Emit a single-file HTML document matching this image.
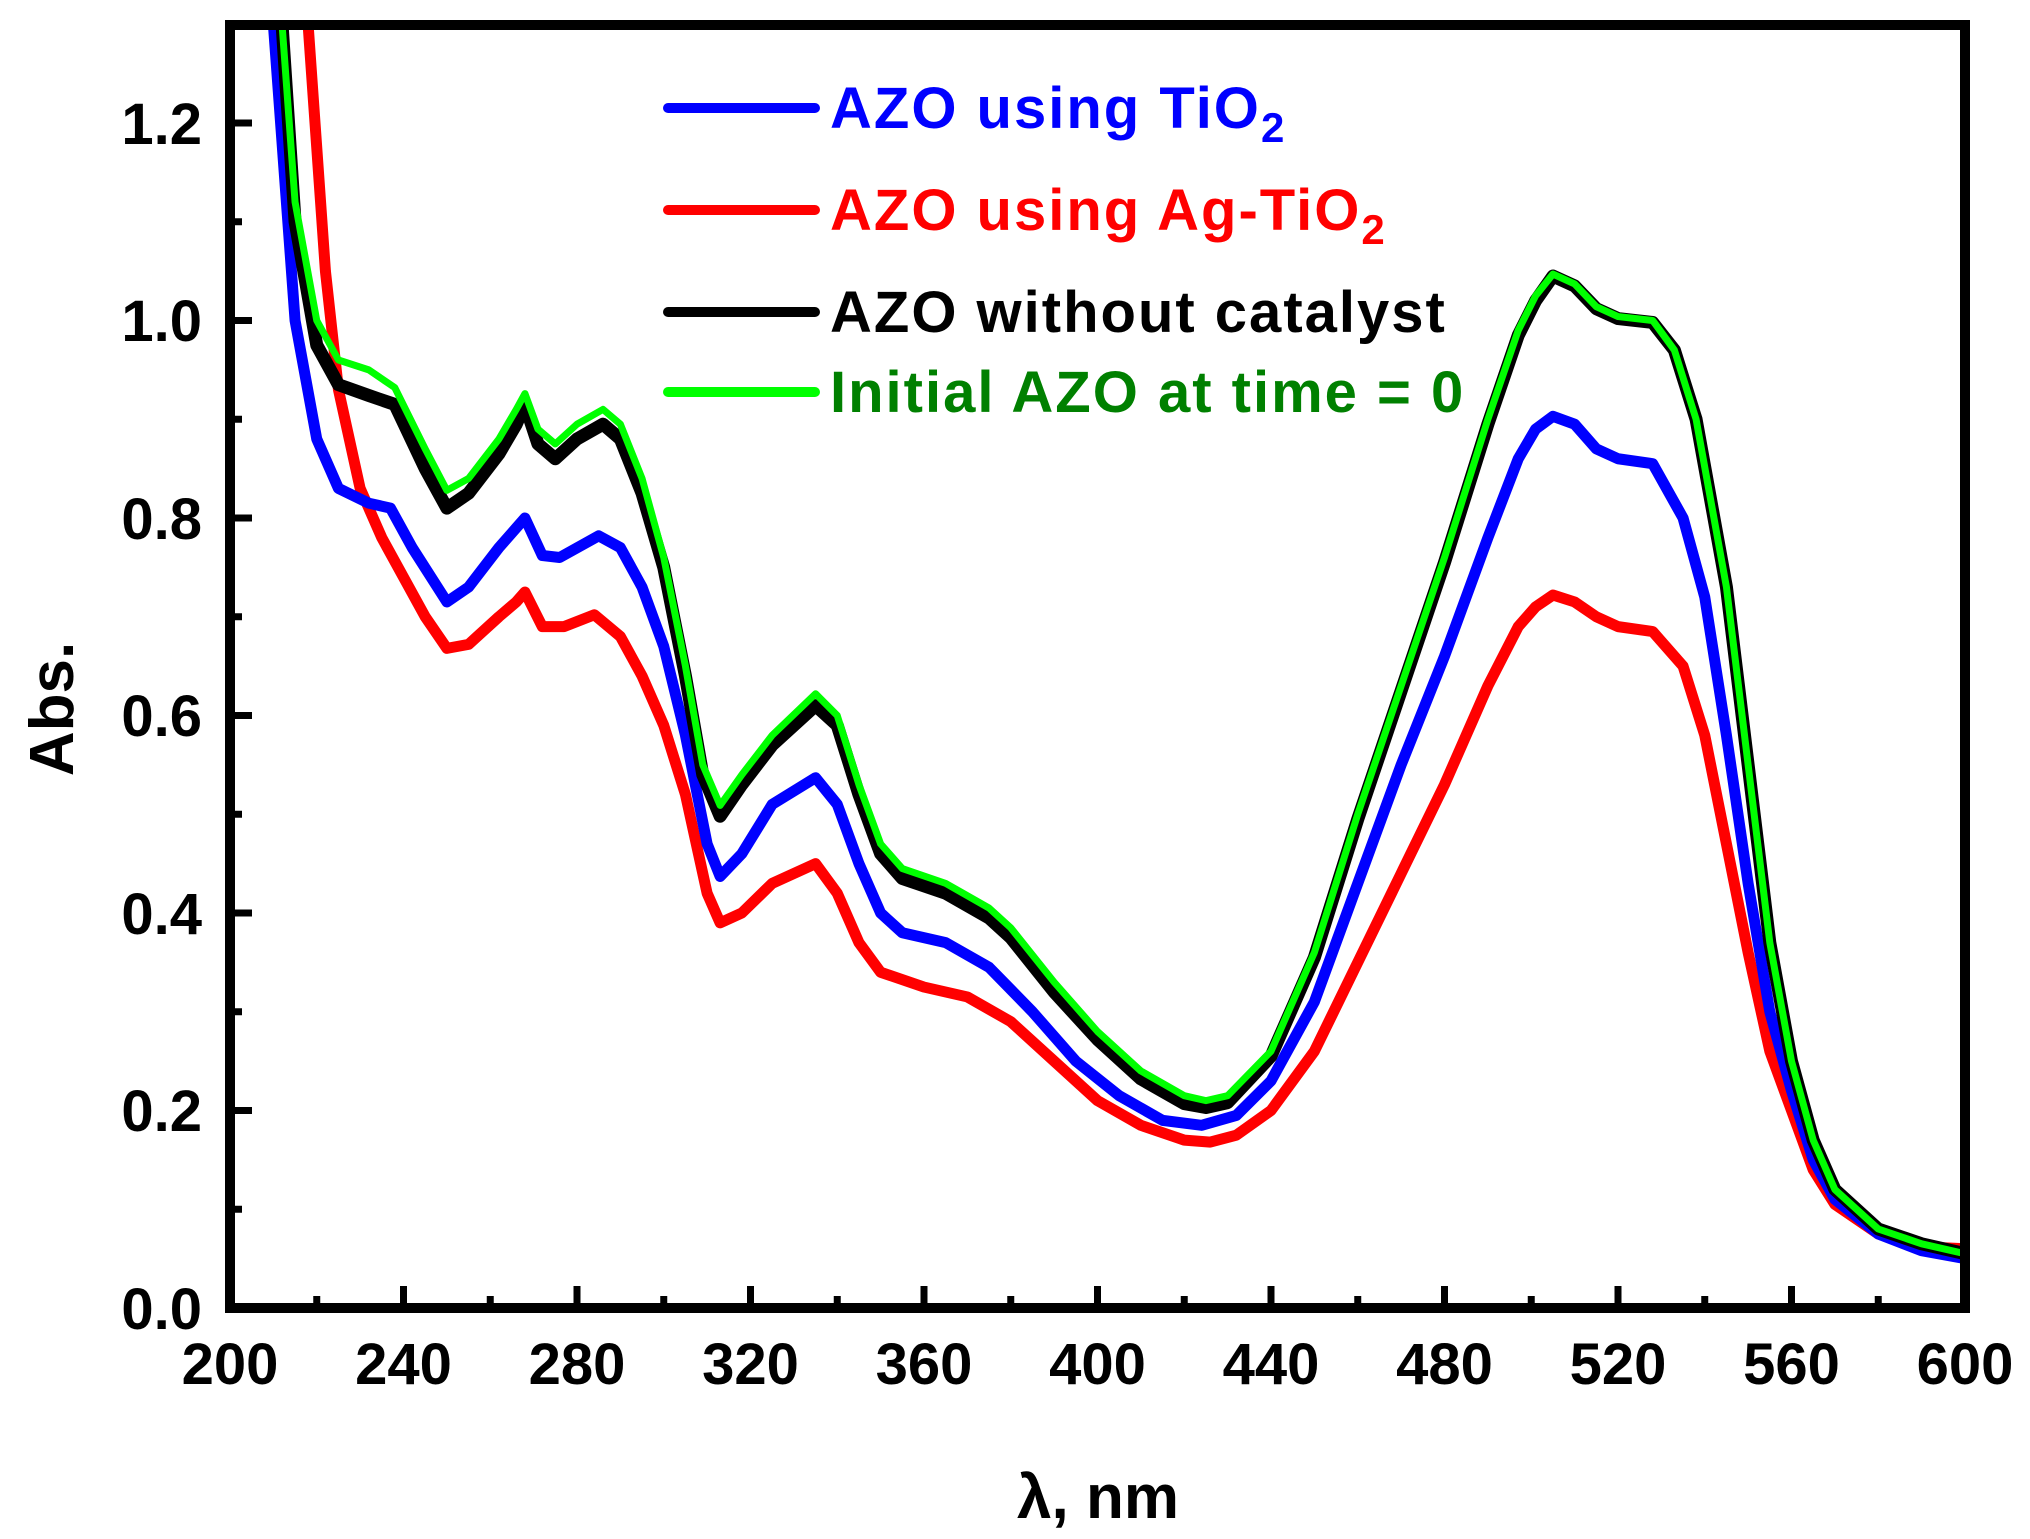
<!DOCTYPE html>
<html><head><meta charset="utf-8"><style>
html,body{margin:0;padding:0;background:#fff;}
svg{display:block;}
text{font-family:"Liberation Sans",Arial,sans-serif;font-weight:bold;}
</style></head><body>
<svg width="2030" height="1539" viewBox="0 0 2030 1539" xmlns="http://www.w3.org/2000/svg">
<defs><clipPath id="c"><rect x="230" y="25" width="1735" height="1283"/></clipPath></defs>
<g clip-path="url(#c)" fill="none" stroke-linejoin="round" stroke-linecap="round">
<g transform="translate(230,1308) scale(4.3375,-987.5)">
<polyline vector-effect="non-scaling-stroke" stroke="#ff0000" stroke-width="11" points="17,1.35 18,1.3 22,1.05 25,0.93 30,0.83 35,0.78 40,0.74 45,0.7 50,0.668 55,0.672 62,0.7 66,0.715 68,0.725 72,0.69 77,0.69 84,0.702 90,0.68 95,0.64 100,0.59 105,0.52 110,0.42 113,0.39 118,0.4 125,0.43 135,0.45 140,0.42 145,0.37 150,0.34 160,0.325 170,0.315 180,0.29 190,0.25 200,0.21 210,0.185 220,0.17 226,0.168 232,0.175 240,0.2 250,0.26 260,0.35 270,0.44 280,0.53 290,0.63 297,0.69 301,0.71 305,0.722 310,0.715 315,0.7 320,0.69 328,0.685 335,0.65 340,0.58 345,0.47 350,0.36 355,0.26 360,0.2 365,0.14 370,0.105 380,0.075 390,0.062 400,0.06"/>
<polyline vector-effect="non-scaling-stroke" stroke="#0000ff" stroke-width="11" points="8,1.4 10,1.3 15,1.0 20,0.88 25,0.83 32,0.815 37,0.81 42,0.77 50,0.715 55,0.73 62,0.77 66,0.79 68,0.8 72,0.762 76,0.76 85,0.782 90,0.77 95,0.73 100,0.67 105,0.58 110,0.47 113,0.437 118,0.46 125,0.51 135,0.537 140,0.51 145,0.45 150,0.4 155,0.38 165,0.37 175,0.345 185,0.3 195,0.25 205,0.215 215,0.19 224,0.185 232,0.195 240,0.23 250,0.31 260,0.43 270,0.55 280,0.66 290,0.78 297,0.86 301,0.89 305,0.903 310,0.895 315,0.87 320,0.86 328,0.855 335,0.8 340,0.72 345,0.58 350,0.43 355,0.3 360,0.22 365,0.15 370,0.11 380,0.075 390,0.058 400,0.05"/>
<polyline vector-effect="non-scaling-stroke" stroke="#000" stroke-width="13" points="10,1.4 12,1.3 15,1.1 20,0.975 25,0.935 32,0.924 38,0.915 45,0.85 50,0.81 55,0.825 62,0.865 66,0.895 68,0.915 71,0.875 75,0.86 80,0.88 86,0.895 90,0.88 95,0.825 100,0.75 105,0.64 109,0.54 113,0.498 118,0.53 125,0.57 135,0.61 140,0.59 145,0.52 150,0.46 155,0.435 165,0.42 175,0.395 180,0.375 190,0.32 200,0.272 210,0.232 220,0.207 225,0.203 230,0.208 240,0.255 250,0.355 260,0.495 270,0.625 280,0.755 290,0.895 297,0.985 301,1.02 305,1.045 310,1.035 315,1.012 320,1.002 328,0.998 333,0.97 338,0.9 345,0.73 350,0.55 355,0.37 360,0.25 365,0.17 370,0.12 380,0.08 390,0.065 400,0.055"/>
<polyline vector-effect="non-scaling-stroke" stroke="#00ff00" stroke-width="7" points="10,1.4 12,1.3 15,1.12 20,1.0 25,0.96 32,0.95 38,0.932 45,0.87 50,0.828 55,0.84 62,0.88 66,0.91 68,0.926 71,0.89 75,0.875 80,0.895 86,0.91 90,0.895 95,0.84 100,0.76 105,0.65 109,0.55 113,0.509 118,0.54 125,0.58 135,0.622 140,0.6 145,0.53 150,0.47 155,0.445 165,0.43 175,0.405 180,0.385 190,0.33 200,0.28 210,0.24 220,0.215 225,0.21 230,0.215 240,0.26 250,0.36 260,0.5 270,0.63 280,0.76 290,0.9 297,0.99 301,1.025 305,1.047 310,1.037 315,1.014 320,1.004 328,1.0 333,0.97 338,0.9 345,0.73 350,0.55 355,0.37 360,0.25 365,0.17 370,0.12 380,0.08 390,0.065 400,0.055"/>
</g></g>
<rect x="230" y="25" width="1735" height="1283" fill="none" stroke="#000" stroke-width="10"/>
<g stroke="#000" stroke-width="7">
<path d="M230,1308v-22M403.5,1308v-22M577,1308v-22M750.5,1308v-22M924,1308v-22M1097.5,1308v-22M1271,1308v-22M1444.5,1308v-22M1618,1308v-22M1791.5,1308v-22"/>
<path d="M316.75,1308v-12M490.25,1308v-12M663.75,1308v-12M837.25,1308v-12M1010.75,1308v-12M1184.25,1308v-12M1357.75,1308v-12M1531.25,1308v-12M1704.75,1308v-12M1878.25,1308v-12"/>
<path d="M230,1110.5h22M230,913h22M230,715.5h22M230,518h22M230,320.5h22M230,123h22"/>
<path d="M230,1209.25h12M230,1011.75h12M230,814.25h12M230,616.75h12M230,419.25h12M230,221.75h12"/>
</g>
<g font-size="58" fill="#000" text-anchor="end">
<text x="202" y="1329">0.0</text>
<text x="202" y="1131">0.2</text>
<text x="202" y="934">0.4</text>
<text x="202" y="736">0.6</text>
<text x="202" y="539">0.8</text>
<text x="202" y="341">1.0</text>
<text x="202" y="144">1.2</text>
</g>
<g font-size="58" fill="#000" text-anchor="middle">
<text x="230" y="1384">200</text>
<text x="403.5" y="1384">240</text>
<text x="577" y="1384">280</text>
<text x="750.5" y="1384">320</text>
<text x="924" y="1384">360</text>
<text x="1097.5" y="1384">400</text>
<text x="1271" y="1384">440</text>
<text x="1444.5" y="1384">480</text>
<text x="1618" y="1384">520</text>
<text x="1791.5" y="1384">560</text>
<text x="1965" y="1384">600</text>
</g>
<text x="0" y="0" font-size="62" text-anchor="middle" transform="translate(73,709) rotate(-90)">Abs.</text>
<text x="1098" y="1518" font-size="62" text-anchor="middle">λ, nm</text>
<g stroke-width="10" stroke-linecap="round">
<line x1="668" y1="108" x2="815" y2="108" stroke="#0000ff"/>
<line x1="668" y1="210" x2="815" y2="210" stroke="#ff0000"/>
<line x1="668" y1="312" x2="815" y2="312" stroke="#000"/>
<line x1="668" y1="392" x2="815" y2="392" stroke="#00ff00"/>
</g>
<g font-size="58" letter-spacing="2">
<text x="830" y="128" fill="#0000ff">AZO using TiO<tspan font-size="42" dy="14">2</tspan></text>
<text x="830" y="230" fill="#ff0000">AZO using Ag-TiO<tspan font-size="42" dy="14">2</tspan></text>
<text x="830" y="332" fill="#000">AZO without catalyst</text>
<text x="830" y="412" fill="#008000">Initial AZO at time = 0</text>
</g>
</svg>
</body></html>
